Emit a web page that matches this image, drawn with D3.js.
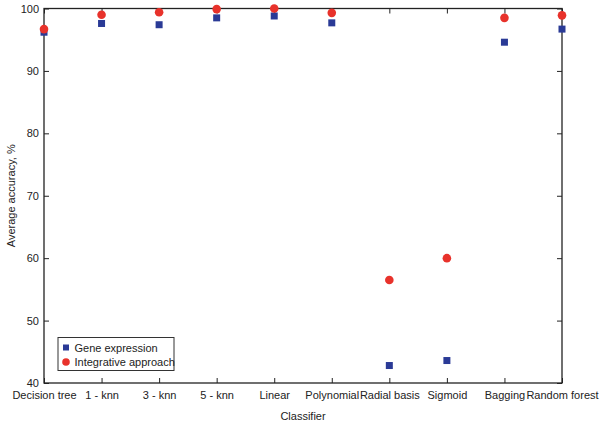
<!DOCTYPE html>
<html><head><meta charset="utf-8">
<script src="https://cdn.jsdelivr.net/npm/d3@7"></script>
<style>body{margin:0;background:#fff}svg{display:block}text{font-family:"Liberation Sans",Arial,sans-serif}</style>
</head><body><svg id="c" width="602" height="426"></svg>
<script>
const categories = ["Decision tree","1 - knn","3 - knn","5 - knn","Linear","Polynomial","Radial basis","Sigmoid","Bagging","Random forest"];
const geneExpression = [96.2, 97.6, 97.4, 98.5, 98.8, 97.7, 42.8, 43.6, 94.6, 96.7];
const integrative = [96.7, 99.0, 99.4, 99.9, 100.0, 99.3, 56.5, 60.0, 98.5, 98.9];
const yTicks = [40, 50, 60, 70, 80, 90, 100];
const seriesNames = ["Gene expression", "Integrative approach"];

const svg = d3.select("#c");
const L = 44, R = 562, T = 8.5, B = 383;
const x = d3.scalePoint().domain(categories).range([L, R]);
const y = d3.scaleLinear().domain([40, 100]).range([B, T]);
const blue = "#2a3a96", red = "#e8322b";

// frame
svg.append("rect").attr("x", L).attr("y", T).attr("width", R - L).attr("height", B - T)
  .attr("fill", "none").attr("stroke", "#222").attr("stroke-width", 1.3);

// axes with inward ticks
const fs = "11px";
const xb = svg.append("g").attr("transform", `translate(0,${B})`)
  .call(d3.axisBottom(x).tickSizeInner(-5).tickSizeOuter(0).tickPadding(8));
xb.select(".domain").remove();
xb.selectAll("text").attr("font-size", fs).attr("fill", "#222").style("font-family", '"Liberation Sans",Arial,sans-serif');
xb.selectAll("line").attr("stroke", "#222");

const xt = svg.append("g").attr("transform", `translate(0,${T})`)
  .call(d3.axisTop(x).tickSizeInner(-5).tickSizeOuter(0).tickFormat(""));
xt.select(".domain").remove(); xt.selectAll("line").attr("stroke", "#222");

const yl = svg.append("g").attr("transform", `translate(${L},0)`)
  .call(d3.axisLeft(y).tickValues(yTicks).tickSizeInner(-5).tickSizeOuter(0).tickPadding(5));
yl.select(".domain").remove();
yl.selectAll("text").attr("font-size", fs).attr("fill", "#222").style("font-family", '"Liberation Sans",Arial,sans-serif');
yl.selectAll("line").attr("stroke", "#222");

const yr = svg.append("g").attr("transform", `translate(${R},0)`)
  .call(d3.axisRight(y).tickValues(yTicks).tickSizeInner(-5).tickSizeOuter(0).tickFormat(""));
yr.select(".domain").remove(); yr.selectAll("line").attr("stroke", "#222");

// axis labels
svg.append("text").attr("x", (L + R) / 2).attr("y", 420).attr("text-anchor", "middle")
  .attr("font-size", "11px").attr("fill", "#222").text("Classifier");
svg.append("text").attr("transform", `translate(15,${(T + B) / 2}) rotate(-90)`).attr("text-anchor", "middle")
  .attr("font-size", "11px").attr("fill", "#222").text("Average accuracy, %");

// markers
const s = 7;
svg.append("g").selectAll("rect").data(categories).join("rect")
  .attr("x", (d) => x(d) - s / 2).attr("y", (d, i) => y(geneExpression[i]) - s / 2)
  .attr("width", s).attr("height", s).attr("fill", blue);
svg.append("g").selectAll("circle").data(categories).join("circle")
  .attr("cx", (d) => x(d)).attr("cy", (d, i) => y(integrative[i])).attr("r", 4.3).attr("fill", red);

// legend
const lg = svg.append("g");
lg.append("rect").attr("x", 58).attr("y", 337.5).attr("width", 116).attr("height", 33)
  .attr("fill", "#fff").attr("stroke", "#333").attr("stroke-width", 1);
lg.append("rect").attr("x", 63).attr("y", 344.5).attr("width", 6).attr("height", 6).attr("fill", blue);
lg.append("circle").attr("cx", 66).attr("cy", 362).attr("r", 3.8).attr("fill", red);
lg.selectAll("text.l").data(seriesNames).join("text").attr("class", "l")
  .attr("x", 74.5).attr("y", (d, i) => 351.5 + i * 14.5).attr("font-size", "11px").attr("fill", "#222").text((d) => d);
</script></body></html>
